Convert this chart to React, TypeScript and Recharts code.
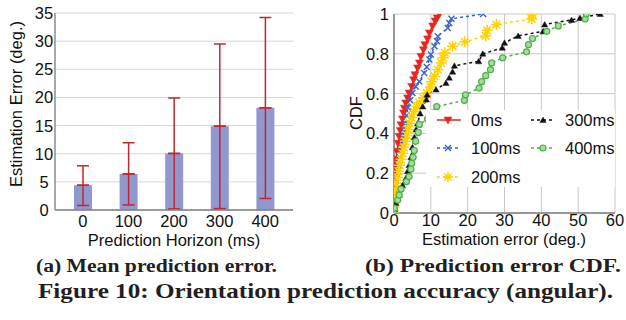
import React from 'react';
import { BarChart, Bar, ErrorBar, XAxis, YAxis, CartesianGrid, LineChart, Line, Legend } from 'recharts';

const SANS = '"Liberation Sans", Arial, Helvetica, sans-serif';
const SERIF = '"Liberation Serif", "Times New Roman", serif';

// ---------- (a) Mean prediction error ----------
const horizons = ['0', '100', '200', '300', '400'];
const meanError = [4.4, 6.4, 10.05, 14.9, 18.15];
const lowError = [0.8, 0.9, 0.2, 0.25, 2.05];
const highError = [7.85, 11.95, 19.9, 29.5, 34.2];
const errorTicks = [0, 5, 10, 15, 20, 25, 30, 35];

// ---------- (b) Prediction error CDF ----------
const seriesNames = ['0ms', '100ms', '200ms', '300ms', '400ms'];
const cdf0ms: [number, number][] = [
  [0, 0], [0, 0.03], [0, 0.06], [0, 0.09], [0, 0.12], [0.05, 0.15], [0.1, 0.18], [0.2, 0.21], [0.35, 0.24],
  [0.5, 0.27], [0.8, 0.31], [1.1, 0.35], [1.4, 0.385], [1.7, 0.415], [1.9, 0.443], [2.3, 0.472], [2.6, 0.502],
  [2.8, 0.527], [3.2, 0.553], [3.7, 0.578], [4.1, 0.603], [4.8, 0.636], [5.3, 0.67], [5.7, 0.695], [6.4, 0.729],
  [6.9, 0.754], [7.3, 0.787], [8.0, 0.82], [8.4, 0.846], [9.1, 0.875], [9.6, 0.905], [10.5, 0.94], [11.2, 0.965],
  [11.7, 0.98], [12.3, 1.0],
];
const cdf100ms: [number, number][] = [
  [0, 0], [0.05, 0.03], [0.1, 0.06], [0.2, 0.1], [0.35, 0.14], [0.5, 0.17], [0.8, 0.2], [1.1, 0.24], [1.5, 0.28],
  [1.9, 0.317], [2.3, 0.35], [2.5, 0.38], [2.8, 0.41], [3.1, 0.45], [3.4, 0.49], [3.8, 0.53], [4.4, 0.566],
  [5.0, 0.603], [5.9, 0.636], [6.9, 0.661], [8.2, 0.704], [8.9, 0.734], [9.6, 0.771], [10.0, 0.796], [11.0, 0.838],
  [11.7, 0.863], [11.9, 0.888], [14.6, 0.93], [15.0, 0.955], [15.6, 0.976], [24.2, 1.0],
];
const cdf200ms: [number, number][] = [
  [0, 0], [0.05, 0.03], [0.1, 0.06], [0.2, 0.09], [0.4, 0.12], [0.6, 0.15], [0.9, 0.18], [1.2, 0.21], [1.5, 0.24],
  [1.9, 0.27], [2.3, 0.3], [2.7, 0.33], [3.1, 0.36], [3.5, 0.39], [3.9, 0.42], [4.3, 0.45], [4.8, 0.48], [5.4, 0.51],
  [6.2, 0.535], [6.9, 0.555], [8.0, 0.578], [8.9, 0.603], [9.9, 0.633], [10.2, 0.66], [11.0, 0.687], [11.9, 0.72],
  [12.8, 0.754], [13.3, 0.78], [13.8, 0.805], [15.9, 0.838], [19.2, 0.86], [24.9, 0.89], [25.3, 0.918],
  [27.8, 0.947], [37.4, 0.976], [37.5, 1.0],
];
const cdf300ms: [number, number][] = [
  [0, 0], [0.2, 0.02], [0.5, 0.05], [1.4, 0.09], [2.3, 0.14], [3.2, 0.175], [3.7, 0.21], [4.1, 0.24], [4.6, 0.28],
  [5.0, 0.33], [5.5, 0.38], [6.0, 0.42], [6.4, 0.45], [7.1, 0.5], [7.8, 0.535], [8.8, 0.57], [9.0, 0.594],
  [11.4, 0.62], [14.1, 0.653], [15.0, 0.68], [15.9, 0.71], [16.4, 0.74], [23.0, 0.762], [24.1, 0.8], [29.4, 0.83],
  [30.0, 0.855], [33.7, 0.89], [40.5, 0.913], [40.9, 0.947], [48.2, 0.97], [50.5, 0.98], [56.0, 1.0],
];
const cdf400ms: [number, number][] = [
  [0, 0], [0.1, 0.024], [1.0, 0.065], [1.4, 0.09], [1.9, 0.12], [3.4, 0.158], [4.1, 0.183], [4.6, 0.22],
  [4.8, 0.25], [5.2, 0.28], [5.5, 0.314], [5.9, 0.36], [6.6, 0.405], [6.9, 0.445], [9.1, 0.472], [11.0, 0.505],
  [11.6, 0.535], [19.1, 0.566], [19.4, 0.594], [23.1, 0.628], [23.8, 0.66], [24.9, 0.69], [26.2, 0.72],
  [26.5, 0.754], [29.5, 0.78], [36.0, 0.81], [36.5, 0.846], [37.6, 0.877], [41.5, 0.913], [44.6, 0.94],
  [51.9, 0.975], [52.2, 1.0],
];
const cdfXTicks = [0, 10, 20, 30, 40, 50, 60];
const cdfYTicks = [0, 0.2, 0.4, 0.6, 0.8, 1];

const barData = horizons.map((h, i) => ({
  h,
  mean: meanError[i],
  err: [meanError[i] - lowError[i], highError[i] - meanError[i]],
  zero: [0, 0],
}));
const toPts = (arr: [number, number][]) => arr.map(([x, y]) => ({ x, y }));

// ---------- markers ----------
type MK = (cx: number, cy: number, k: string, big?: boolean) => React.ReactElement;
const RED = '#e8261f';
const BLUE = '#3a63c6';
const YELLOW = '#ffd200';
const BLACK = '#111111';
const GREEN = '#4cb047';

const mkDownTri: MK = (cx, cy, k) => (
  <path key={k} d={`M${cx - 4},${cy - 3}L${cx + 4},${cy - 3}L${cx},${cy + 4}Z`} fill={RED} stroke={RED} strokeWidth={0.5} />
);
const mkCross: MK = (cx, cy, k) => (
  <path key={k} d={`M${cx - 3},${cy - 3}L${cx + 3},${cy + 3}M${cx - 3},${cy + 3}L${cx + 3},${cy - 3}`} stroke={BLUE} strokeWidth={1.4} fill="none" />
);
const mkStar: MK = (cx, cy, k, big) => {
  const r = big ? 5.5 : 5;
  const d = r * 0.7071;
  return (
    <path key={k}
      d={`M${cx - r},${cy}L${cx + r},${cy}M${cx},${cy - r}L${cx},${cy + r}M${cx - d},${cy - d}L${cx + d},${cy + d}M${cx - d},${cy + d}L${cx + d},${cy - d}`}
      stroke={YELLOW} strokeWidth={1.5} fill="none" />
  );
};
const mkUpTri: MK = (cx, cy, k) => (
  <path key={k} d={`M${cx - 3.2},${cy + 2.5}L${cx + 3.2},${cy + 2.5}L${cx},${cy - 3}Z`} fill={BLACK} stroke={BLACK} strokeWidth={0.4} />
);
const mkCircle: MK = (cx, cy, k) => (
  <circle key={k} cx={cx} cy={cy} r={3} stroke={GREEN} strokeWidth={1.2} fill="#a6dba0" />
);

const seriesData = [cdf0ms, cdf100ms, cdf200ms, cdf300ms, cdf400ms];
const seriesStyle = [
  { color: RED, dash: undefined as string | undefined, mk: mkDownTri },
  { color: BLUE, dash: '3 3', mk: mkCross },
  { color: YELLOW, dash: '3 3', mk: mkStar },
  { color: BLACK, dash: '3 3', mk: mkUpTri },
  { color: GREEN, dash: '3 3', mk: mkCircle },
];

// ---------- ticks & labels ----------
const txt = { fontFamily: SANS, fontSize: 16.5, fill: '#111' };

const LeftYTick = (p: any) => (
  <text x={p.x} y={p.y} textAnchor="middle" dominantBaseline="central" {...txt}>{p.payload.value}</text>
);
const BottomTick = (p: any) => (
  <text x={p.x} y={p.y} textAnchor="middle" dominantBaseline="central" {...txt}>{p.payload.value}</text>
);
const RightYTick = (p: any) => (
  <text x={p.x} y={p.y} textAnchor="end" dominantBaseline="central" {...txt}>{String(p.payload.value)}</text>
);

const LegendBox = () => {
  const cols = [{ x1: 11, x2: 35, m: 22, t: 45 }, { x1: 105, x2: 128, m: 117, t: 139 }];
  const rows = [10, 38, 67];
  const place = [[0, 0], [0, 1], [0, 2], [1, 0], [1, 1]];
  return (
    <svg width={189} height={77} style={{ display: 'block' }}>
      {seriesNames.map((name, i) => {
        const c = cols[place[i][0]];
        const y = rows[place[i][1]];
        const st = seriesStyle[i];
        return (
          <g key={name}>
            <line x1={c.x1} x2={c.x2} y1={y} y2={y} stroke={st.color} strokeWidth={1.5} strokeDasharray={st.dash} />
            {st.mk(c.m, y, `lm${i}`)}
            <text x={c.t} y={y} dominantBaseline="central" {...txt}>{name}</text>
          </g>
        );
      })}
    </svg>
  );
};

export default function App() {
  return (
    <div style={{ position: 'absolute', left: 0, top: 0, width: 626, height: 320, background: '#fff', overflow: 'hidden' }}>
      <div style={{ position: 'absolute', left: 0, top: 0 }}>
        <BarChart width={313} height={250} data={barData} margin={{ top: 13, right: 20, left: 15, bottom: 0 }}>
          <CartesianGrid vertical={false} stroke="#d6d6d6" strokeWidth={1} />
          <XAxis dataKey="h" height={40} padding={{ left: 5, right: 5 }} tickSize={0} tickMargin={11}
            tickLine={false} axisLine={{ stroke: '#7f7f7f', strokeWidth: 1.5 }} tick={BottomTick}
            label={() => (
              <text x={174} y={240} textAnchor="middle" dominantBaseline="central" {...txt}>Prediction Horizon (ms)</text>
            )} />
          <YAxis domain={[0, 35]} ticks={errorTicks} width={40} tickSize={0} tickMargin={11} tickLine={false}
            axisLine={{ stroke: '#8c8c8c', strokeWidth: 1.5 }} tick={LeftYTick} interval={0}
            label={() => (
              <text x={16} y={104} transform="rotate(-90, 16, 104)" textAnchor="middle" dominantBaseline="central" {...txt}>
                Estimation Error (deg.)
              </text>
            )} />
          <Bar dataKey="mean" fill="#9098ce" barSize={18} isAnimationActive={false}>
            <ErrorBar dataKey="err" width={6} stroke="#c0282d" strokeWidth={1.5} />
            <ErrorBar dataKey="zero" width={6} stroke="#c0282d" strokeWidth={1.5} />
          </Bar>
        </BarChart>
      </div>
      <div style={{ position: 'absolute', left: 313, top: 0 }}>
        <LineChart width={313} height={250} margin={{ top: 14, right: 11, left: 31, bottom: 0 }}>
          <CartesianGrid stroke="#c8c8c8" strokeWidth={1} />
          <XAxis type="number" dataKey="x" domain={[0, 60]} ticks={cdfXTicks} interval={0} height={37}
            tickSize={0} tickMargin={7} tickLine={false} axisLine={{ stroke: '#7f7f7f', strokeWidth: 1.5 }}
            tick={BottomTick} allowDataOverflow
            label={() => (
              <text x={191} y={239} textAnchor="middle" dominantBaseline="central" {...txt}>Estimation error (deg.)</text>
            )} />
          <YAxis type="number" domain={[0, 1]} ticks={cdfYTicks} interval={0} width={50} tickSize={0} tickMargin={5}
            tickLine={false} axisLine={{ stroke: '#7f7f7f', strokeWidth: 1.5 }} tick={RightYTick} allowDataOverflow
            label={() => (
              <text x={43} y={113} transform="rotate(-90, 43, 113)" textAnchor="middle" dominantBaseline="central" {...txt}>CDF</text>
            )} />
          <Legend layout="horizontal" verticalAlign="middle" align="center" content={LegendBox}
            wrapperStyle={{ left: 113, top: 110, width: 189, height: 77, background: '#fff' }} />
          {seriesData.map((d, i) => {
            const st = seriesStyle[i];
            return (
              <Line key={seriesNames[i]} name={seriesNames[i]} data={toPts(d)} dataKey="y" type="linear"
                stroke={st.color} strokeWidth={1.5} strokeDasharray={st.dash} isAnimationActive={false}
                activeDot={false}
                dot={(p: any) => st.mk(p.cx, p.cy, `d${i}-${p.index}`, true)} />
            );
          })}
        </LineChart>
      </div>
      <svg style={{ position: 'absolute', left: 0, top: 250 }} width={626} height={70}>
        <text x={36} y={22} fontFamily={SERIF} fontWeight="bold" fontSize={18.5} fill="#231f20"
          textLength={241} lengthAdjust="spacingAndGlyphs">(a) Mean prediction error.</text>
        <text x={365} y={22} fontFamily={SERIF} fontWeight="bold" fontSize={18.5} fill="#231f20"
          textLength={256} lengthAdjust="spacingAndGlyphs">(b) Prediction error CDF.</text>
        <text x={38} y={48} fontFamily={SERIF} fontWeight="bold" fontSize={21} fill="#231f20"
          textLength={575} lengthAdjust="spacingAndGlyphs">Figure 10: Orientation prediction accuracy (angular).</text>
      </svg>
    </div>
  );
}
